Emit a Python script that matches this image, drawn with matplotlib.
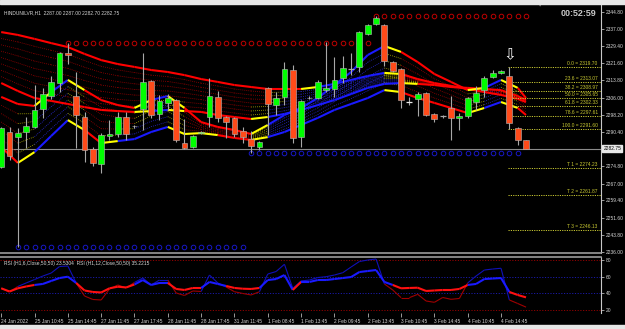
import numpy as np
import matplotlib
matplotlib.use("Agg")
import matplotlib.pyplot as plt
from matplotlib.collections import LineCollection
from matplotlib.transforms import blended_transform_factory

plt.rcParams["font.family"] = ["Liberation Sans", "DejaVu Sans"]

# ---- candles (H1, HINDUNILVR) ----
opens = [2274.5, 2290.4, 2288.1, 2290.4, 2292.7, 2300.8, 2306.7, 2312.6, 2326.2, 2306.7,
         2297.2, 2282.7, 2275.9, 2288.6, 2289.5, 2297.2, 2293.0, 2300.8, 2313.5, 2298.6,
         2303.5, 2304.9, 2285.4, 2283.6, 2290.0, 2297.2, 2306.3, 2297.2, 2296.7, 2290.9,
         2287.2, 2283.6, 2310.3, 2302.6, 2306.3, 2318.5, 2288.1, 2306.0, 2305.8, 2309.4,
         2309.9, 2314.9, 2318.9, 2319.9, 2334.8, 2339.4, 2338.9, 2322.1, 2318.9, 2304.0,
         2305.4, 2308.1, 2298.6, 2297.5, 2301.3, 2296.7, 2297.7, 2304.0, 2309.4, 2315.3,
         2317.1, 2315.8, 2292.2, 2287.00]
highs = [2292.7, 2292.7, 2292.2, 2297.2, 2311.7, 2310.3, 2315.8, 2326.7, 2330.6, 2317.6,
         2299.5, 2283.6, 2289.9, 2295.8, 2299.5, 2299.5, 2293.8, 2326.2, 2314.0, 2307.2,
         2307.6, 2305.4, 2296.3, 2289.0, 2291.0, 2314.9, 2309.0, 2297.7, 2297.2, 2292.7,
         2290.9, 2286.3, 2310.8, 2308.5, 2322.1, 2320.8, 2304.9, 2306.5, 2314.0, 2331.2,
         2324.4, 2324.9, 2326.2, 2336.2, 2339.4, 2343.1, 2339.4, 2322.6, 2319.4, 2306.3,
         2308.5, 2308.5, 2299.0, 2298.2, 2306.7, 2299.0, 2306.3, 2311.2, 2315.8, 2318.5,
         2318.5, 2319.70, 2292.7, 2287.00]
lows = [2274.1, 2277.7, 2238.3, 2283.1, 2292.2, 2296.7, 2305.4, 2308.5, 2321.2, 2283.1,
        2276.8, 2275.0, 2271.8, 2286.8, 2288.1, 2286.8, 2292.2, 2291.3, 2296.7, 2295.8,
        2300.4, 2285.9, 2282.9, 2283.1, 2289.5, 2292.7, 2294.9, 2287.7, 2288.1, 2285.4,
        2281.0, 2282.2, 2289.0, 2298.1, 2302.6, 2285.4, 2283.6, 2305.2, 2305.4, 2308.5,
        2306.3, 2312.6, 2316.2, 2317.6, 2334.4, 2338.9, 2320.3, 2317.6, 2301.3, 2302.6,
        2297.7, 2297.7, 2294.9, 2296.8, 2286.8, 2291.3, 2296.7, 2300.4, 2306.3, 2314.9,
        2316.6, 2291.60, 2284.5, 2282.70]
closes = [2292.2, 2279.5, 2289.9, 2293.1, 2300.4, 2307.6, 2313.1, 2326.2, 2325.3, 2298.1,
          2282.2, 2276.3, 2289.0, 2289.5, 2297.2, 2289.5, 2293.2, 2313.1, 2298.1, 2304.5,
          2305.8, 2286.8, 2283.1, 2288.6, 2290.2, 2306.7, 2296.7, 2294.9, 2289.5, 2288.1,
          2284.1, 2285.9, 2303.1, 2305.8, 2318.9, 2287.7, 2304.5, 2305.6, 2313.1, 2310.3,
          2314.0, 2319.4, 2319.0, 2335.7, 2338.9, 2342.1, 2322.6, 2318.0, 2304.9, 2304.0,
          2307.6, 2298.1, 2296.3, 2297.6, 2296.7, 2297.7, 2305.8, 2308.1, 2314.9, 2317.1,
          2318.0, 2294.5, 2287.0, 2282.75]

# ---- moving average lines, read every 2 bars ----
ma_bars = [0, 2, 4, 6, 8, 10, 12, 14, 16, 18, 20, 22, 24, 26, 28, 30, 32, 34, 36, 38,
           40, 42, 44, 46, 48, 50, 52, 54, 56, 58, 60, 62, 63]
ma_slow = [2335.7, 2334.4, 2332.6, 2330.7, 2328.9, 2325.8, 2323.0, 2321.2, 2319.9, 2318.5,
           2317.6, 2316.2, 2314.4, 2313.1, 2311.7, 2310.8, 2309.9, 2309.9, 2309.9, 2310.8,
           2312.2, 2314.0, 2315.8, 2317.2, 2316.7, 2314.4, 2312.6, 2311.3, 2309.9, 2308.5,
           2307.2, 2305.4, 2304.0]
ma_mid = [2312.6, 2309.0, 2305.8, 2304.5, 2303.1, 2301.7, 2300.4, 2299.9, 2299.5, 2299.9,
          2300.4, 2299.9, 2299.5, 2298.1, 2297.2, 2296.3, 2297.2, 2298.6, 2300.4, 2302.6,
          2304.9, 2307.6, 2310.4, 2312.2, 2312.6, 2312.2, 2311.7, 2310.8, 2310.4, 2309.9,
          2309.4, 2306.7, 2304.9]
ma_fast_hi = [2306.3, 2303.1, 2302.2, 2308.5, 2314.0, 2309.4, 2304.9, 2302.6, 2301.3, 2304.9,
              2306.7, 2301.3, 2294.9, 2292.7, 2291.3, 2289.5, 2293.6, 2298.1, 2301.3, 2305.8,
              2311.7, 2317.6, 2325.3, 2329.4, 2326.7, 2322.1, 2316.7, 2313.1, 2309.4, 2310.4,
              2314.0, 2310.4, 2305.8]
ma_fast_lo = [2283.6, 2276.4, 2281.3, 2288.6, 2295.8, 2291.3, 2285.4, 2286.3, 2287.2, 2290.4,
              2292.7, 2289.5, 2289.9, 2289.0, 2287.7, 2286.8, 2288.1, 2290.4, 2293.6, 2296.8,
              2300.4, 2303.1, 2305.8, 2309.4, 2308.5, 2305.8, 2303.6, 2301.3, 2299.0, 2301.3,
              2304.0, 2301.3, 2298.1]

# fractal levels (start bar, end bar, price)
res_levels = [(8, 44, 2330.6), (45, 63, 2343.1)]
sup_levels = [(2, 29, 2238.3), (30, 62, 2281.0)]

# fibo on the last big bar
fib_bar = 61
fib_names = ["0.0", "23.6", "38.2", "50.0", "61.8", "78.6", "100.0", "T 1", "T 2", "T 3"]
fib_prices = [2319.70, 2313.07, 2308.97, 2305.65, 2302.33, 2297.61, 2291.60,
              2274.23, 2261.87, 2246.13]

price_ticks = [2344.80, 2337.00, 2329.40, 2321.60, 2313.80, 2306.00, 2298.20, 2290.40,
               2274.80, 2267.00, 2259.40, 2251.60, 2243.80, 2236.00]
last_price = 2282.75

rsi6 = [46.1, 41.7, 48.3, 52.5, 56.6, 60.8, 64.4, 72.2, 72.8, 52.5, 36.9, 32.7, 32.1, 45.3,
        50.1, 46.5, 53.1, 58.4, 50.1, 56.0, 56.0, 40.5, 37.5, 42.9, 42.3, 62.0, 52.5, 47.7,
        42.0, 39.9, 38.1, 42.0, 63.2, 66.2, 74.9, 46.1, 54.9, 56.0, 59.0, 60.0, 62.0, 64.8,
        71.6, 78.2, 80.0, 81.2, 51.3, 44.1, 34.9, 34.9, 38.9, 30.9, 29.3, 35.1, 32.9, 33.9,
        52.5, 60.8, 68.0, 69.2, 70.1, 32.1, 27.9, 23.53]
rsi12 = [46.1, 42.3, 46.1, 48.3, 50.1, 51.3, 54.9, 58.4, 60.0, 52.5, 43.5, 41.7, 41.1, 46.1,
         48.0, 47.1, 50.7, 56.0, 50.1, 52.5, 52.5, 45.3, 44.1, 46.5, 46.5, 53.7, 51.3, 48.9,
         46.5, 45.6, 45.3, 46.5, 56.0, 57.2, 62.0, 44.1, 53.7, 53.7, 56.0, 56.0, 57.2, 58.4,
         59.6, 65.6, 66.8, 68.0, 53.7, 50.1, 46.1, 46.5, 46.8, 42.9, 43.5, 44.1, 44.1, 45.3,
         50.1, 51.3, 57.2, 57.8, 58.4, 41.7, 38.1, 35.22]

date_bars = list(range(0, 64, 4))
date_labels = ["24 Jan 2022", "25 Jan 10:45", "25 Jan 14:45", "27 Jan 11:45", "27 Jan 17:45",
               "28 Jan 11:45", "28 Jan 17:45", "31 Jan 11:45", "1 Feb 08:45", "1 Feb 13:45",
               "2 Feb 09:45", "2 Feb 13:45", "3 Feb 10:45", "3 Feb 14:45", "4 Feb 10:45",
               "4 Feb 14:45"]

BULL = "#00ff00"
BEAR = "#ff4b1a"
WICK = "#a8a8a8"
TXT = "#d8d8d8"
FIB = "#c8c832"
FS = 3.5

fig = plt.figure(figsize=(6.25, 3.29), dpi=100, facecolor="black")
ax = fig.add_axes([0, 76 / 329, 601 / 625, 248 / 329], facecolor="black")
ax2 = fig.add_axes([0, 16 / 329, 601 / 625, 56 / 329], facecolor="black", sharex=ax)

x = np.arange(len(opens))
ax.set_xlim(-0.144, 72.0)
ax.set_ylim(2235.56, 2347.97)


def colored_line(axis, xs, ys, up, down, turn, **kw):
    xs = np.asarray(xs, float)
    ys = np.asarray(ys, float)
    segs, cols = [], []
    prev = None
    for k in range(len(xs) - 1):
        s = np.sign(ys[k + 1] - ys[k])
        if prev is not None and s != prev and s != 0:
            c = turn
        else:
            c = up if s > 0 else down
        segs.append([(xs[k], ys[k]), (xs[k + 1], ys[k + 1])])
        cols.append(c)
        prev = s
    axis.add_collection(LineCollection(segs, colors=cols, **kw))


mb = np.array(ma_bars)
slow, mid = np.array(ma_slow), np.array(ma_mid)
fhi, flo = np.array(ma_fast_hi), np.array(ma_fast_lo)

# dotted ribbons
for f in np.linspace(0, 1, 9)[1:-1]:
    colored_line(ax, mb, slow + f * (mid - slow), "#2a2ad0", "#a00000", "#b0b000",
                 linewidths=0.6, linestyles=(0, (1, 1.4)), zorder=2)
for f in np.linspace(0, 1, 7)[1:-1]:
    colored_line(ax, mb, fhi + f * (flo - fhi), "#2a2ad0", "#a00000", "#b0b000",
                 linewidths=0.6, linestyles=(0, (1, 1.4)), zorder=2)

for line in (slow, mid, fhi, flo):
    colored_line(ax, mb, line, "#1a1aff", "#ff0000", "#ffff00", linewidths=1.5, zorder=3)

# fractal circles
for b0, b1, lv in res_levels:
    xs = np.arange(b0, b1 + 1)
    ax.plot(xs, [lv] * len(xs), "o", ms=3.3, mfc="none", mec="#c00000", mew=0.7, zorder=3)
for b0, b1, lv in sup_levels:
    xs = np.arange(b0, b1 + 1)
    ax.plot(xs, [lv] * len(xs), "o", ms=3.3, mfc="none", mec="#1818c8", mew=0.7, zorder=3)

# current price line
ax.axhline(last_price, color="#8a8a8a", lw=0.8, zorder=1)

# candles
o, h, l, c = map(np.array, (opens, highs, lows, closes))
ax.vlines(x, l, h, color=WICK, lw=0.8, zorder=4)
w = 0.7
for i in range(len(x)):
    if abs(c[i] - o[i]) < 0.15:
        col = "#e8e8e8" if i == 49 else WICK
        ax.hlines(o[i], x[i] - w / 2, x[i] + w / 2, color=col, lw=0.9, zorder=5)
        continue
    col = BULL if c[i] > o[i] else BEAR
    ax.bar(x[i], abs(c[i] - o[i]), bottom=min(o[i], c[i]), width=w, color=col,
           edgecolor="#b8b8b8", linewidth=0.4, zorder=5)

# fibo lines
for name, pr in zip(fib_names, fib_prices):
    ax.hlines(pr, fib_bar - 0.2, 72.0, color=FIB, lw=0.7, linestyles=(0, (1.2, 1.2)), zorder=3)
    ax.text(71.6, pr + 0.5, f"{name} = {pr:.2f}", color=FIB, fontsize=FS,
            ha="right", va="bottom", zorder=6)

# arrow over the signal bar
ax.text(fib_bar, highs[fib_bar] + 2.2, "\u21e9", color="white", fontsize=11,
        ha="center", va="bottom", zorder=6, family="DejaVu Sans")

# price axis on the right
ax.yaxis.tick_right()
ax.set_yticks(price_ticks)
ax.set_yticklabels([f"{p:.2f}" for p in price_ticks])
ax.tick_params(axis="y", colors=TXT, labelsize=FS, length=2, width=0.5, pad=1.5)
ax.tick_params(axis="x", bottom=False, labelbottom=False)
for s in ("top", "left"):
    ax.spines[s].set_visible(False)
ax.spines["right"].set_color("#c8c8c8")
ax.spines["bottom"].set_color("#9a9a9a")
ax.spines["bottom"].set_linewidth(1.2)

tr = blended_transform_factory(ax.transAxes, ax.transData)
ax.text(1.004, last_price, f"{last_price:.2f}", transform=tr, color="black", fontsize=FS,
        va="center", ha="left", zorder=7,
        bbox=dict(boxstyle="square,pad=0.2", fc="#e8e8e8", ec="#e8e8e8"))

ax.text(0.006, 0.978, "HINDUNILVR,H1  2287.00 2287.00 2282.70 2282.75", transform=ax.transAxes,
        color=TXT, fontsize=FS, ha="left", va="top")
ax.text(0.993, 0.985, "00:52:59", transform=ax.transAxes, color="#c8c8c8", fontsize=6.5,
        ha="right", va="top", fontweight="bold")
ax.text(0.898, 1.0, "\u25bc", transform=ax.transAxes, color="#9a9a9a", fontsize=4,
        ha="center", va="center", family="DejaVu Sans")

# ---- RSI panel ----
ax2.set_ylim(16.5, 83.6)
for lv, col in ((80, "#900000"), (20, "#900000"), (60, "#1a1aa8"), (40, "#1a1aa8")):
    ax2.axhline(lv, color=col, lw=0.7, ls=(0, (1.2, 1.6)))


def rsi_line(vals, up, down, lw):
    v = np.asarray(vals)
    segs = [[(k, v[k]), (k + 1, v[k + 1])] for k in range(len(v) - 1)]
    cols = [up if (v[k] + v[k + 1]) / 2 >= 50 else down for k in range(len(v) - 1)]
    ax2.add_collection(LineCollection(segs, colors=cols, linewidths=lw))


rsi_line(rsi6, "#1010b8", "#a00000", 0.8)
rsi_line(rsi12, "#1a1aff", "#ff1010", 1.5)

ax2.yaxis.tick_right()
ax2.set_yticks([80, 60, 40, 20])
ax2.set_yticklabels(["80", "60", "40", "20"])
ax2.tick_params(axis="y", colors=TXT, labelsize=FS, length=2, width=0.5, pad=1.5)
ax2.set_xticks(date_bars)
ax2.set_xticklabels(date_labels)
ax2.tick_params(axis="x", colors=TXT, labelsize=FS, length=3, width=0.5, pad=1.5)
for t in ax2.get_xticklabels():
    t.set_ha("left")
for s in ("left", "bottom"):
    ax2.spines[s].set_visible(False)
ax2.spines["right"].set_color("#c8c8c8")
ax2.spines["top"].set_color("#9a9a9a")
ax2.spines["top"].set_linewidth(1.2)
ax2.text(0.006, 0.93, "RSI (H1,6,Close,50,50) 23.5304  RSI (H1,12,Close,50,50) 35.2215",
         transform=ax2.transAxes, color=TXT, fontsize=FS, ha="left", va="top")

# window frame strips
fig.patches.append(plt.Rectangle((0, 325 / 329), 1, 4 / 329, transform=fig.transFigure,
                                 color="#e6e6e6", zorder=0))
fig.patches.append(plt.Rectangle((0, 0), 1, 4 / 329, transform=fig.transFigure,
                                 color="#e6e6e6", zorder=0))

fig.savefig("out.png", dpi=100, facecolor="black")
